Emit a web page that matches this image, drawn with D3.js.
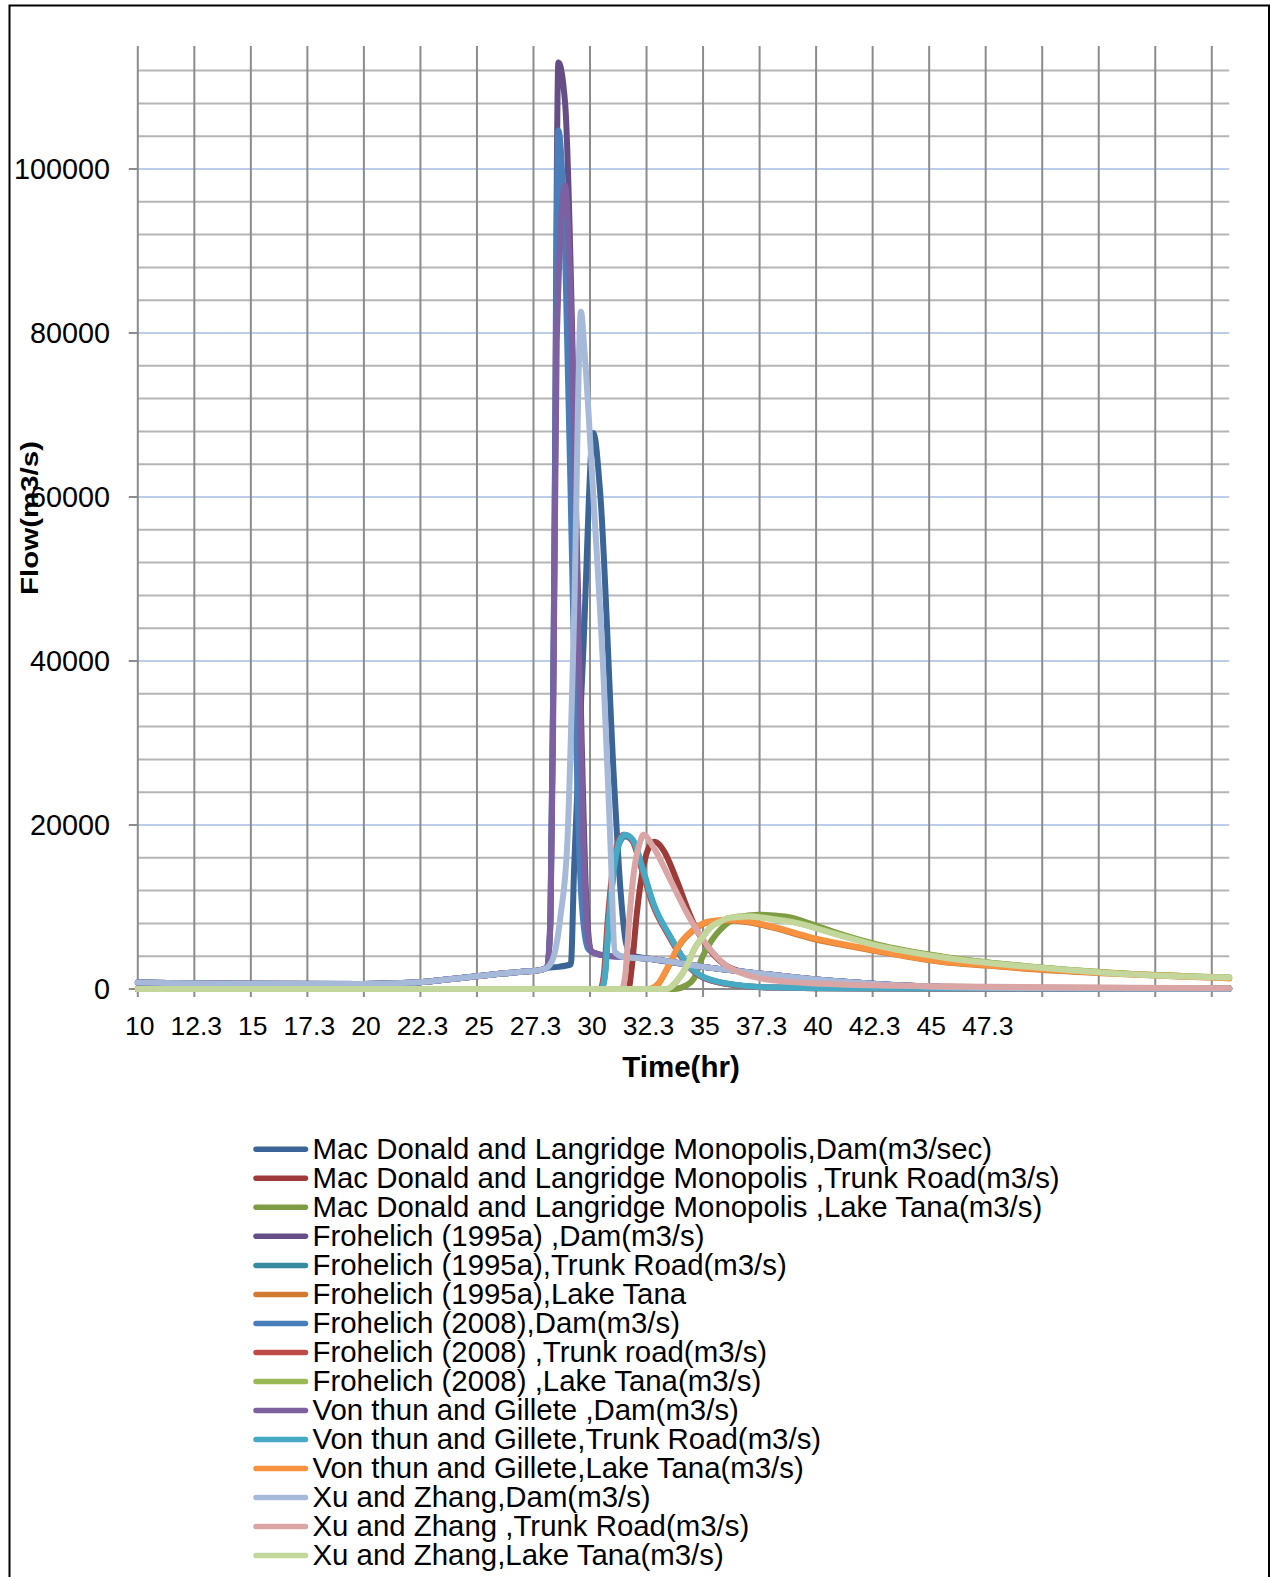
<!DOCTYPE html>
<html>
<head>
<meta charset="utf-8">
<script src="https://cdn.jsdelivr.net/npm/d3@7"></script>
<style>
  body { margin: 0; background: #fff; }
  svg { display: block; }
  text { font-family: "Liberation Sans", Arial, sans-serif; fill: #000; }
</style>
</head>
<body>
<svg id="chart" width="1271" height="1577"></svg>
<script>
// category labels of the time axis (h.mm), one every 2.5 h; last ticks are blank
const xTickLabels = ["10","12.3","15","17.3","20","22.3","25","27.3","30","32.3",
                     "35","37.3","40","42.3","45","47.3","","","",""];
const yTickLabels = [0, 20000, 40000, 60000, 80000, 100000];

const seriesNames = [
  "Mac Donald and Langridge Monopolis,Dam(m3/sec)",
  "Mac Donald and Langridge Monopolis ,Trunk Road(m3/s)",
  "Mac Donald and Langridge Monopolis ,Lake Tana(m3/s)",
  "Frohelich (1995a) ,Dam(m3/s)",
  "Frohelich (1995a),Trunk Road(m3/s)",
  "Frohelich (1995a),Lake Tana",
  "Frohelich (2008),Dam(m3/s)",
  "Frohelich (2008) ,Trunk road(m3/s)",
  "Frohelich (2008) ,Lake Tana(m3/s)",
  "Von thun and Gillete ,Dam(m3/s)",
  "Von thun and Gillete,Trunk Road(m3/s)",
  "Von thun and Gillete,Lake Tana(m3/s)",
  "Xu and Zhang,Dam(m3/s)",
  "Xu and Zhang ,Trunk Road(m3/s)",
  "Xu and Zhang,Lake Tana(m3/s)"
];
const seriesColors = ["#3b6597","#9c3b38","#7e9c43","#654e85","#368ba0","#d27a32",
                      "#4a7ebb","#be4b48","#98b954","#7d60a0","#46aac5","#f69240",
                      "#a7b9d8","#d9a6a5","#c3d69b"];

// [time (h), flow (m3/s)]
// reservoir inflow shared by all dam hydrographs before and after the breach
const damBefore = [[10,800],[12,700],[15,650],[20,620],[22,750],[23,950],[24,1250],
                   [25,1550],[26,1850],[27,2100],[27.8,2300],[28.1,2600]];
const damAfter  = [[30.6,4100],[31.5,3900],[32.7,3650],[35,2700],[37.5,1900],[40,1150],
                   [42.5,650],[45,300],[47.5,150],[52,80],[58.27,50]];

const macdDamPeak   = [[28.6,2700],[29.15,3000],[29.3,15000],[29.7,41000],[30.15,67800],
                       [30.45,60500],[31.05,26000],[31.35,12000],[31.6,5500],[31.85,4100]];
const froh95DamPeak = [[28.25,9000],[28.4,45000],[28.6,113000],[28.9,108000],[29.5,45000],
                       [29.85,10000],[30.05,4600]];
const froh08DamPeak = [[28.25,8000],[28.4,45000],[28.6,104700],[28.9,90000],[29.3,40000],
                       [29.6,12000],[29.9,5000],[30.05,4600]];
const vonDamPeak    = [[28.25,8000],[28.38,35000],[28.53,79000],[28.9,98000],[29.2,79000],
                       [29.7,18000],[29.9,6500],[30.1,4500]];
const xuDamPeak     = [[28.4,4000],[28.7,9000],[29.0,18000],[29.3,46000],[29.6,82600],
                       [29.75,78000],[30.15,60000],[30.6,38000],[30.9,18000],[31.1,4500]];

const macdTrunk   = [[10,0],[31.7,0],[31.85,2700],[32.07,9200],[32.36,14900],[32.65,17500],
                     [32.87,17960],[33.24,16950],[33.83,13300],[34.28,10000],[34.72,7200],
                     [35.3,4750],[36.05,2800],[37.22,1800],[38.7,1100],[41,600],[45,300],
                     [50,150],[58.27,80]];
const froh95Trunk = [[10,0],[30.5,0],[30.65,1400],[30.85,8800],[31.1,15300],[31.35,18100],
                     [31.55,18600],[31.9,18000],[32.35,14300],[32.8,10300],[33.55,6300],
                     [34.3,3000],[35,1400],[36.5,450],[38,180],[42,70],[58.27,30]];
const froh08Trunk = [[10,0],[30.45,0],[30.6,1500],[30.8,9000],[31.05,15500],[31.3,18300],
                     [31.5,18800],[31.85,18200],[32.3,14500],[32.75,10500],[33.5,6400],
                     [34.25,3100],[35,1400],[36.5,450],[38,180],[42,70],[58.27,30]];
const vonTrunk    = [[10,0],[30.5,0],[30.65,1500],[30.85,9000],[31.1,15500],[31.35,18300],
                     [31.55,18800],[31.9,18200],[32.35,14500],[32.8,10500],[33.55,6400],
                     [34.3,3100],[35,1500],[36.5,500],[38,200],[42,80],[58.27,30]];
const xuTrunk     = [[10,0],[31.4,0],[31.55,1500],[31.75,9000],[31.95,14500],[32.2,17800],
                     [32.36,18800],[32.8,17300],[33.55,13300],[34.3,9200],[35,6000],
                     [35.75,3500],[37.2,1500],[38.7,900],[40.2,650],[45,350],[50,200],
                     [58.27,100]];

const macdLake   = [[10,0],[33.7,0],[34.3,500],[34.6,1300],[34.97,3900],[35.4,6000],
                    [35.75,7200],[36.5,8650],[37.45,9050],[38.7,8800],[39.5,8200],
                    [40.85,6900],[42.74,5400],[45.6,3950],[49.4,2750],[53.2,1950],[58.27,1400]];
const froh95Lake = [[10,0],[32.6,0],[33.0,550],[33.5,2900],[33.95,5300],[34.6,7200],
                    [35.2,8100],[36.1,8350],[37,8150],[38,7550],[39.9,6100],[41.8,5050],
                    [43.7,4100],[45.6,3300],[47.5,2850],[49.4,2450],[53.2,1850],[58.27,1300]];
const froh08Lake = [[10,0],[33.4,0],[33.85,1000],[34.28,2800],[34.6,4800],[35.0,6400],
                    [35.35,7600],[35.75,8200],[36.12,8650],[37.0,8900],[38.0,8600],
                    [38.96,8200],[40.85,6750],[42.74,5300],[45.6,3900],[49.4,2750],
                    [53.2,1950],[58.27,1400]];
const vonLake    = [[10,0],[32.6,0],[33.0,600],[33.5,3000],[33.95,5400],[34.6,7300],
                    [35.2,8200],[36.1,8450],[37,8250],[38,7650],[39.9,6200],[41.8,5150],
                    [43.7,4150],[45.6,3350],[47.5,2900],[49.4,2500],[53.2,1900],[58.27,1300]];
const xuLake     = [[10,0],[33.4,0],[33.85,1000],[34.28,2800],[34.6,4800],[35.0,6400],
                    [35.35,7600],[35.75,8200],[36.12,8650],[37.0,8850],[38.0,8550],
                    [38.96,8150],[40.85,6700],[42.74,5250],[45.6,3850],[49.4,2700],
                    [53.2,1900],[58.27,1400]];

function damSeries(peak) {
  const last = peak[peak.length - 1][0];
  return damBefore.concat(peak, damAfter.filter(d => d[0] > last));
}

const seriesData = [
  damSeries(macdDamPeak), macdTrunk, macdLake,
  damSeries(froh95DamPeak), froh95Trunk, froh95Lake,
  damSeries(froh08DamPeak), froh08Trunk, froh08Lake,
  damSeries(vonDamPeak), vonTrunk, vonLake,
  damSeries(xuDamPeak), xuTrunk, xuLake
];

const svg = d3.select("#chart");

// outer frame
svg.append("rect")
  .attr("x", 9.5).attr("y", 5.5).attr("width", 1259.5).attr("height", 1600)
  .attr("fill", "none").attr("stroke", "#000").attr("stroke-width", 2);

const x = d3.scaleLinear().domain([10, 58.27]).range([137.8, 1229.2]);
const y = d3.scaleLinear().domain([0, 115000]).range([989, 46]);

const xTickTimes = xTickLabels.map((d, i) => 10 + 2.5 * i);

// minor horizontal gridlines
svg.append("g").selectAll("line")
  .data(d3.range(4000, 115000, 4000).filter(v => v % 20000 !== 0))
  .join("line")
    .attr("x1", x(10)).attr("x2", x(58.27))
    .attr("y1", d => y(d)).attr("y2", d => y(d))
    .attr("stroke", "#b5b5b5").attr("stroke-width", 2);

// major horizontal gridlines
svg.append("g").selectAll("line")
  .data(yTickLabels.slice(1))
  .join("line")
    .attr("x1", x(10)).attr("x2", x(58.27))
    .attr("y1", d => y(d)).attr("y2", d => y(d))
    .attr("stroke", "#bccde9").attr("stroke-width", 2);

// vertical gridlines with their tick marks below the axis
svg.append("g").selectAll("line")
  .data(xTickTimes)
  .join("line")
    .attr("x1", d => x(d)).attr("x2", d => x(d))
    .attr("y1", y(115000)).attr("y2", y(0) + 8)
    .attr("stroke", "#8c8c8c").attr("stroke-width", 2);

// x axis line and y tick marks
svg.append("line")
  .attr("x1", x(10)).attr("x2", x(58.27)).attr("y1", y(0)).attr("y2", y(0))
  .attr("stroke", "#8c8c8c").attr("stroke-width", 2);
svg.append("g").selectAll("line")
  .data(yTickLabels)
  .join("line")
    .attr("x1", x(10) - 9).attr("x2", x(10))
    .attr("y1", d => y(d)).attr("y2", d => y(d))
    .attr("stroke", "#8c8c8c").attr("stroke-width", 2);

// tick labels
svg.append("g").selectAll("text")
  .data(yTickLabels)
  .join("text")
    .attr("x", 110).attr("y", d => y(d) + 10)
    .attr("text-anchor", "end").attr("font-size", 28.8)
    .text(d => d);

svg.append("g").selectAll("text")
  .data(xTickLabels)
  .join("text")
    .attr("x", (d, i) => x(xTickTimes[i]) + 2).attr("y", 1035)
    .attr("text-anchor", "middle").attr("font-size", 26.5)
    .text(d => d);

// series
const line = d3.line()
  .x(d => x(d[0]))
  .y(d => y(d[1]))
  .curve(d3.curveMonotoneX);

svg.append("g").selectAll("path")
  .data(seriesData)
  .join("path")
    .attr("d", line)
    .attr("fill", "none")
    .attr("stroke", (d, i) => seriesColors[i])
    .attr("stroke-width", 6)
    .attr("stroke-linejoin", "round")
    .attr("stroke-linecap", "round");

// axis titles
svg.append("text")
  .attr("x", 681).attr("y", 1077)
  .attr("text-anchor", "middle").attr("font-size", 29.5).attr("font-weight", "bold")
  .text("Time(hr)");

svg.append("text")
  .attr("transform", "translate(38,518) rotate(-90) scale(1,0.8)")
  .attr("text-anchor", "middle").attr("font-size", 29.5).attr("font-weight", "bold")
  .text("Flow(m3/s)");

// legend
const legend = svg.append("g").selectAll("g")
  .data(seriesNames)
  .join("g")
    .attr("transform", (d, i) => `translate(0,${1149.3 + i * 29.02})`);

legend.append("line")
  .attr("x1", 256).attr("x2", 305.5).attr("y1", 0).attr("y2", 0)
  .attr("stroke", (d, i) => seriesColors[i])
  .attr("stroke-width", 5.5).attr("stroke-linecap", "round");

legend.append("text")
  .attr("x", 312.5).attr("y", 9.5)
  .attr("font-size", 29.4)
  .text(d => d);
</script>
</body>
</html>
